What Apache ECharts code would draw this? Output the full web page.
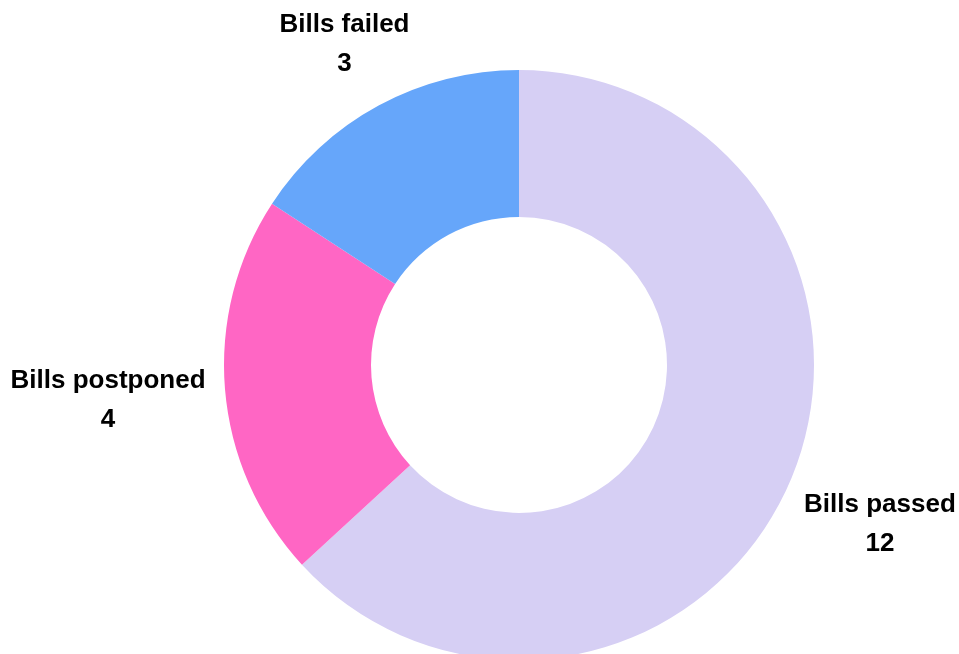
<!DOCTYPE html>
<html>
<head>
<meta charset="utf-8">
<script src="https://cdn.jsdelivr.net/npm/echarts@6/dist/echarts.min.js"></script>
<style>
  html, body { margin: 0; padding: 0; background: #fff; }
  #main { width: 959px; height: 654px; }
</style>
</head>
<body>
<div id="main"></div>
<script>
// data
const categories = ['Bills passed', 'Bills postponed', 'Bills failed'];
const values = [12, 4, 3];
const colors = ['#D6CFF4', '#FF66C4', '#66A6FA'];

// nudges (px) from ECharts' outside label anchor to the centred label, per slice
const labelNudgeX = [57, -82, -7];
const labelNudgeY = [35, 10, -48];

const chart = echarts.init(document.getElementById('main'), null, { renderer: 'canvas' });

chart.setOption({
  animation: false,
  series: [{
    type: 'pie',
    center: [519, 365],
    radius: [148, 295],
    startAngle: 90,
    clockwise: true,
    avoidLabelOverlap: false,
    color: colors,
    label: {
      show: true,
      position: 'outside',
      formatter: '{b}\n{c}',
      fontFamily: 'Liberation Sans, Arial, sans-serif',
      fontWeight: 'bold',
      fontSize: 26,
      lineHeight: 39,
      color: '#000'
    },
    labelLine: { show: false, length: 15, length2: 15 },
    labelLayout: function (params) {
      const r = params.labelRect;
      const i = params.dataIndex;
      // anchor = the edge ECharts hangs the label from
      const anchorX = params.align === 'right' ? r.x + r.width : r.x;
      return {
        x: anchorX + labelNudgeX[i],
        y: r.y + r.height / 2 + labelNudgeY[i],
        align: 'center',
        verticalAlign: 'middle'
      };
    },
    emphasis: { disabled: true },
    data: categories.map((name, i) => ({ name: name, value: values[i] }))
  }]
});
</script>
</body>
</html>
